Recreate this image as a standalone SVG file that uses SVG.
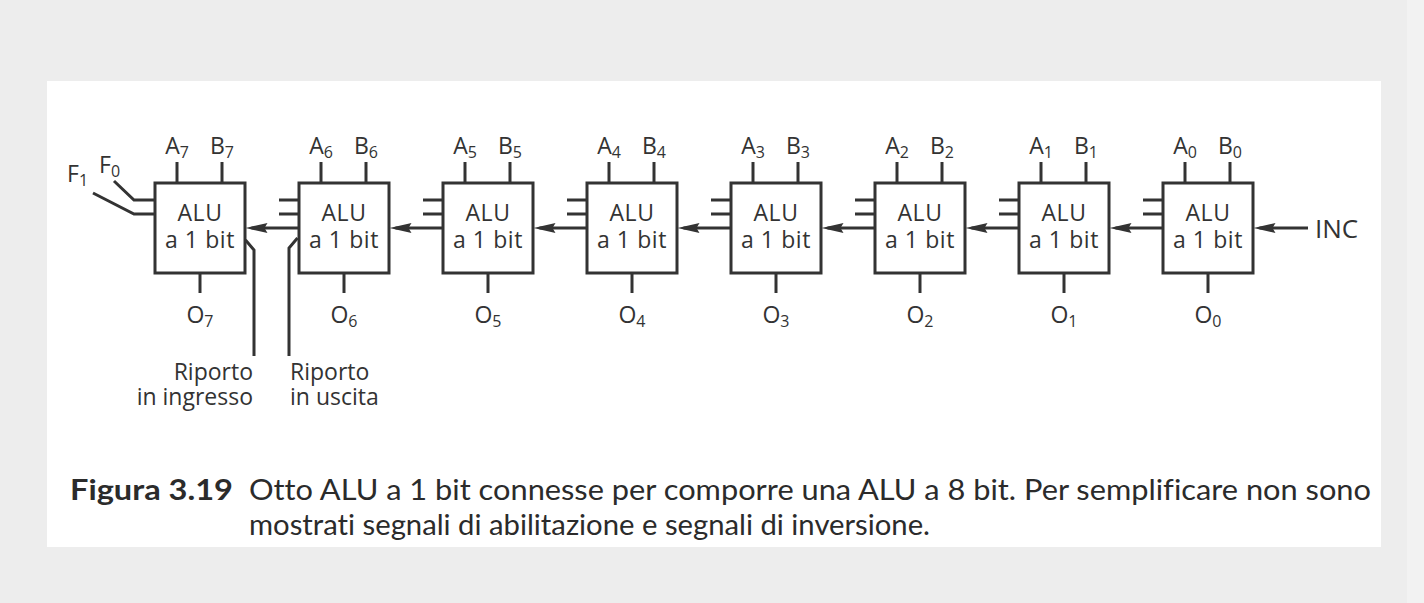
<svg xmlns="http://www.w3.org/2000/svg" width="1424" height="603" viewBox="0 0 1424 603">
<style>
  .bg{fill:#ededed}
  .panel{fill:#ffffff}
  .box{fill:#ffffff;stroke:#333;stroke-width:3}
  .w{fill:none;stroke:#333;stroke-width:3}
  .t{font-family:"Open Sans","Liberation Sans",sans-serif;fill:#333;font-size:23px}
  .alu{font-family:"Open Sans","Liberation Sans",sans-serif;fill:#333;font-size:23px;text-anchor:middle;letter-spacing:0.6px}
  .lbl{font-family:"Open Sans","Liberation Sans",sans-serif;fill:#333;font-size:23px;text-anchor:middle}
  .sub{font-size:16px}
  .cap{font-family:"Lato","Liberation Sans",sans-serif;fill:#2b2b2b;font-size:28px;font-variant-ligatures:none}
  .capb{font-family:"Lato","Liberation Sans",sans-serif;fill:#2b2b2b;font-size:28px;font-weight:bold;font-variant-ligatures:none}
</style>
<defs>
  <marker id="ah" markerUnits="userSpaceOnUse" markerWidth="24" markerHeight="12" refX="16" refY="6" orient="auto">
    <path d="M22,6 L0,1 L3,6 L0,11 Z" fill="#333"/>
  </marker>
  <g id="alubox">
    <rect class="box" x="0" y="0" width="90" height="90"/>
    <line class="w" x1="22" y1="-21" x2="22" y2="0"/>
    <line class="w" x1="67" y1="-21" x2="67" y2="0"/>
    <line class="w" x1="45" y1="90" x2="45" y2="110"/>
    <text class="alu" x="45" y="38">ALU</text>
    <text class="alu" x="45" y="65">a 1 bit</text>
  </g>
</defs>
<rect class="bg" x="0" y="0" width="1424" height="603"/>
<rect x="1407" y="0" width="17" height="603" fill="#f2f2f2"/>
<rect class="panel" x="47" y="81" width="1334" height="466"/>

<g id="alu7"><use href="#alubox" x="155" y="183"/>
  <text class="lbl" x="177" y="154">A<tspan class="sub" dy="4">7</tspan></text>
  <text class="lbl" x="222" y="154">B<tspan class="sub" dy="4">7</tspan></text>
  <text class="lbl" x="200" y="323">O<tspan class="sub" dy="4">7</tspan></text>
</g>
<g id="alu6"><use href="#alubox" x="299" y="183"/>
  <text class="lbl" x="321" y="154">A<tspan class="sub" dy="4">6</tspan></text>
  <text class="lbl" x="366" y="154">B<tspan class="sub" dy="4">6</tspan></text>
  <text class="lbl" x="344" y="323">O<tspan class="sub" dy="4">6</tspan></text>
</g>
<g id="alu5"><use href="#alubox" x="443" y="183"/>
  <text class="lbl" x="465" y="154">A<tspan class="sub" dy="4">5</tspan></text>
  <text class="lbl" x="510" y="154">B<tspan class="sub" dy="4">5</tspan></text>
  <text class="lbl" x="488" y="323">O<tspan class="sub" dy="4">5</tspan></text>
</g>
<g id="alu4"><use href="#alubox" x="587" y="183"/>
  <text class="lbl" x="609" y="154">A<tspan class="sub" dy="4">4</tspan></text>
  <text class="lbl" x="654" y="154">B<tspan class="sub" dy="4">4</tspan></text>
  <text class="lbl" x="632" y="323">O<tspan class="sub" dy="4">4</tspan></text>
</g>
<g id="alu3"><use href="#alubox" x="731" y="183"/>
  <text class="lbl" x="753" y="154">A<tspan class="sub" dy="4">3</tspan></text>
  <text class="lbl" x="798" y="154">B<tspan class="sub" dy="4">3</tspan></text>
  <text class="lbl" x="776" y="323">O<tspan class="sub" dy="4">3</tspan></text>
</g>
<g id="alu2"><use href="#alubox" x="875" y="183"/>
  <text class="lbl" x="897" y="154">A<tspan class="sub" dy="4">2</tspan></text>
  <text class="lbl" x="942" y="154">B<tspan class="sub" dy="4">2</tspan></text>
  <text class="lbl" x="920" y="323">O<tspan class="sub" dy="4">2</tspan></text>
</g>
<g id="alu1"><use href="#alubox" x="1019" y="183"/>
  <text class="lbl" x="1041" y="154">A<tspan class="sub" dy="4">1</tspan></text>
  <text class="lbl" x="1086" y="154">B<tspan class="sub" dy="4">1</tspan></text>
  <text class="lbl" x="1064" y="323">O<tspan class="sub" dy="4">1</tspan></text>
</g>
<g id="alu0"><use href="#alubox" x="1163" y="183"/>
  <text class="lbl" x="1185" y="154">A<tspan class="sub" dy="4">0</tspan></text>
  <text class="lbl" x="1230" y="154">B<tspan class="sub" dy="4">0</tspan></text>
  <text class="lbl" x="1208" y="323">O<tspan class="sub" dy="4">0</tspan></text>
</g>

<g id="connectors">
  <polyline class="w" points="114,181 134,200 154,200"/>
  <polyline class="w" points="93,193 134,214 154,214"/>
  <line class="w" x1="298" y1="228" x2="251.5" y2="228" marker-end="url(#ah)"/>
  <line class="w" x1="442" y1="228" x2="395.5" y2="228" marker-end="url(#ah)"/>
  <line class="w" x1="586" y1="228" x2="539.5" y2="228" marker-end="url(#ah)"/>
  <line class="w" x1="730" y1="228" x2="683.5" y2="228" marker-end="url(#ah)"/>
  <line class="w" x1="874" y1="228" x2="827.5" y2="228" marker-end="url(#ah)"/>
  <line class="w" x1="1018" y1="228" x2="971.5" y2="228" marker-end="url(#ah)"/>
  <line class="w" x1="1162" y1="228" x2="1115.5" y2="228" marker-end="url(#ah)"/>
  <line class="w" x1="1308" y1="228" x2="1259.5" y2="228" marker-end="url(#ah)"/>
  <path class="w" d="M279,200 H298 M279,214 H298 M423,200 H442 M423,214 H442 M567,200 H586 M567,214 H586 M711,200 H730 M711,214 H730 M855,200 H874 M855,214 H874 M999,200 H1018 M999,214 H1018 M1143,200 H1162 M1143,214 H1162"/>
  <polyline class="w" points="245.5,240 254,250 254,356"/>
  <polyline class="w" points="297.5,238 289,248 289,356"/>
</g>

<g id="labels">
  <text class="t" x="67" y="182">F<tspan class="sub" dy="4">1</tspan></text>
  <text class="t" x="99" y="173">F<tspan class="sub" dy="4">0</tspan></text>
  <text class="t" x="1315" y="238" style="font-size:26px">INC</text>
  <text class="t" text-anchor="end"><tspan x="253" y="380">Riporto</tspan><tspan x="253" y="405">in ingresso</tspan></text>
  <text class="t"><tspan x="290" y="380">Riporto</tspan><tspan x="290" y="405">in uscita</tspan></text>
</g>

<g id="caption">
  <text class="capb" x="70" y="500" textLength="163" lengthAdjust="spacingAndGlyphs">Figura 3.19</text>
  <text class="cap" x="249" y="500" textLength="1122" lengthAdjust="spacingAndGlyphs">Otto ALU a 1 bit connesse per comporre una ALU a 8 bit. Per semplificare non sono</text>
  <text class="cap" x="249" y="535" textLength="681" lengthAdjust="spacingAndGlyphs">mostrati segnali di abilitazione e segnali di inversione.</text>
</g>
</svg>
